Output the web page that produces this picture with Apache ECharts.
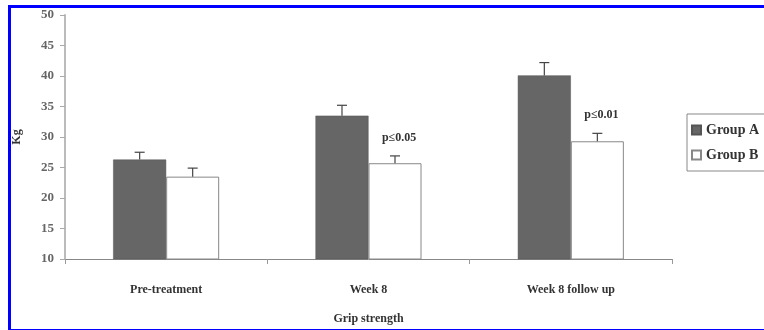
<!DOCTYPE html>
<html>
<head>
<meta charset="utf-8">
<script src="https://cdn.jsdelivr.net/npm/echarts@6/dist/echarts.min.js"></script>
<style>
html,body{margin:0;padding:0;background:#fff;}
#frame{position:absolute;left:8px;top:5px;width:770px;height:321px;border:3px solid #0000ff;box-sizing:content-box;z-index:10;pointer-events:none;}
#chart{position:absolute;left:0;top:0;width:764px;height:330px;}
</style>
</head>
<body>
<div id="chart"></div>
<div id="frame"></div>
<script>
var categories = ['Pre-treatment', 'Week 8', 'Week 8 follow up'];
var seriesNames = ['Group A', 'Group B'];
var groupA = [26.3, 33.5, 40.1];
var groupB = [23.5, 25.7, 29.3];
var errA = [1.2, 1.7, 2.1];
var errB = [1.4, 1.2, 1.3];
var pLabels = ['', 'p\u22640.05', 'p\u22640.01'];
var yTicks = [10, 15, 20, 25, 30, 35, 40, 45, 50];

var chart = echarts.init(document.getElementById('chart'), null, {renderer: 'canvas'});
var serif = 'Liberation Serif';
var barFrac = 0.262;

function errRender(offsetSign, vals, errs, labels) {
  return function (params, api) {
    var i = api.value(0);
    var band = api.size([1, 0])[0];
    var c = api.coord([i, vals[i]]);
    var top = api.coord([i, vals[i] + errs[i]]);
    var x = c[0] + offsetSign * band * barFrac / 2;
    var children = [
      {type: 'line', shape: {x1: x, y1: c[1], x2: x, y2: top[1]}, style: {stroke: '#444', lineWidth: 1.2}},
      {type: 'line', shape: {x1: x - 5, y1: top[1], x2: x + 5, y2: top[1]}, style: {stroke: '#444', lineWidth: 1.2}}
    ];
    if (labels && labels[i]) {
      children.push({type: 'text', x: x + 4, y: top[1] - 18, style: {text: labels[i], fill: '#333', font: 'bold 12px "' + serif + '"', textAlign: 'center', textVerticalAlign: 'middle'}});
    }
    return {type: 'group', children: children};
  };
}

var option = {
  animation: false,
  backgroundColor: '#fff',
  grid: {left: 65, right: 92, top: 15, bottom: 64},
  legend: {
    orient: 'vertical', left: 687, top: 114,
    data: seriesNames,
    icon: 'rect',
    itemWidth: 9, itemHeight: 9, itemGap: 11,
    padding: [9, 8, 9, 4],
    borderColor: '#888', borderWidth: 1,
    textStyle: {fontFamily: serif, fontWeight: 'bold', fontSize: 14, color: '#333'}
  },
  xAxis: {
    type: 'category', data: categories,
    name: 'Grip strength', nameLocation: 'middle', nameGap: 54,
    nameTextStyle: {fontFamily: serif, fontWeight: 'bold', fontSize: 12, color: '#333'},
    axisLine: {lineStyle: {color: '#888'}},
    axisTick: {show: true, length: 5, lineStyle: {color: '#999'}},
    axisLabel: {fontFamily: serif, fontWeight: 'bold', fontSize: 12, color: '#333', margin: 25}
  },
  yAxis: {
    type: 'value', min: 10, max: 50, interval: 5,
    name: 'Kg', nameLocation: 'middle', nameGap: 42, nameRotate: 90,
    nameTextStyle: {fontFamily: serif, fontWeight: 'bold', fontSize: 12, color: '#333'},
    axisLine: {show: true, lineStyle: {color: '#bbb', width: 2}},
    axisTick: {show: true, length: 5, lineStyle: {color: '#aaa'}},
    splitLine: {show: false},
    axisLabel: {fontFamily: serif, fontWeight: 'bold', fontSize: 13, color: '#666', margin: 11,
      formatter: function (v) { return yTicks.indexOf(v) >= 0 ? String(v) : ''; }}
  },
  series: [
    {name: 'Group A', type: 'bar', data: groupA, barWidth: (barFrac * 100) + '%', barGap: '0%',
      itemStyle: {color: '#666666', borderColor: '#555', borderWidth: 0.5}},
    {name: 'Group B', type: 'bar', data: groupB, barWidth: (barFrac * 100) + '%', barGap: '0%',
      itemStyle: {color: '#ffffff', borderColor: '#888', borderWidth: 1}},
    {type: 'custom', data: [0, 1, 2], renderItem: errRender(-1, groupA, errA, null), z: 5, silent: true},
    {type: 'custom', data: [0, 1, 2], renderItem: errRender(1, groupB, errB, pLabels), z: 5, silent: true}
  ]
};
chart.setOption(option);
</script>
</body>
</html>
